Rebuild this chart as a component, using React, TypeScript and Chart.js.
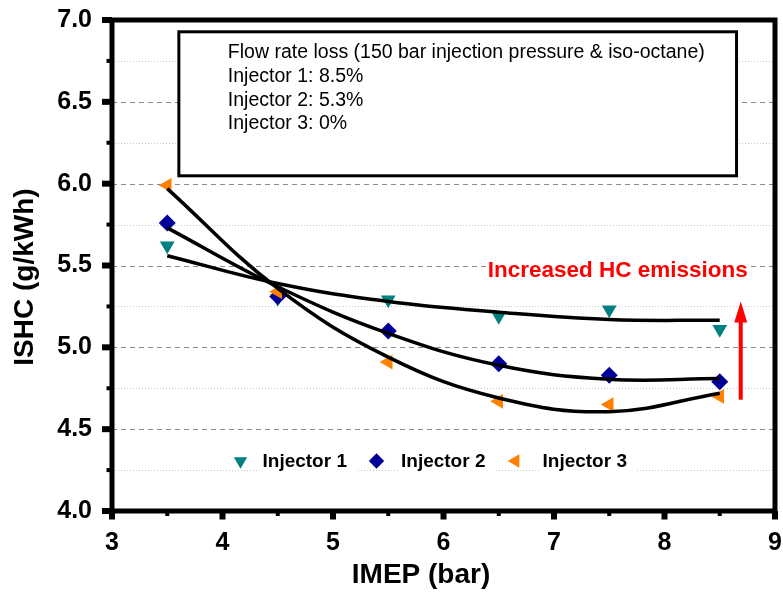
import { useEffect, useRef } from "react"
import { Chart, registerables } from "chart.js"
import { drawPoint } from "chart.js/helpers"

Chart.register(...registerables)

// IMEP operating points (bar)
const imep = [3.5, 4.5, 5.5, 6.5, 7.5, 8.5]

// measured ISHC (g/kWh)
const injector1 = [5.62, 5.30, 5.29, 5.19, 5.23, 5.11]
const injector2 = [5.76, 5.31, 5.10, 4.90, 4.83, 4.79]
const injector3 = [5.99, 5.34, 4.91, 4.67, 4.65, 4.70]

// trend curves at the same IMEP points
const trend1 = [5.56, 5.39, 5.28, 5.215, 5.17, 5.165]
const trend2 = [5.73, 5.37, 5.085, 4.89, 4.805, 4.81]
const trend3 = [5.97, 5.36, 4.94, 4.69, 4.607, 4.72]

const seriesNames = ["Injector 1", "Injector 2", "Injector 3"]
const noteLines = [
  "Flow rate loss (150 bar injection pressure & iso-octane)",
  "Injector 1: 8.5%",
  "Injector 2: 5.3%",
  "Injector 3: 0%",
]
const xTitle = "IMEP (bar)"
const yTitle = "ISHC (g/kWh)"
const arrowLabel = "Increased HC emissions"

const FONT = '"Liberation Sans", Arial, Helvetica, sans-serif'

const markers = [
  { color: "#008080", pointStyle: "triangle", rotation: 180 },
  { color: "#000099", pointStyle: "rectRot", rotation: 0 },
  { color: "#FF8000", pointStyle: "triangle", rotation: 270 },
]

const toPoints = (ys: number[]) => imep.map((x, i) => ({ x, y: ys[i] }))

const decor = {
  id: "decor",
  beforeDatasetsDraw(chart: any) {
    const { ctx, chartArea: a, scales } = chart
    const x = scales.x
    const y = scales.y
    ctx.save()

    // horizontal grid: dashed at 0.5, dotted at 0.25
    for (let v = 4.25; v < 7; v += 0.25) {
      const py = Math.round(y.getPixelForValue(v)) + 0.5
      const major = Math.abs(v * 2 - Math.round(v * 2)) < 1e-6
      ctx.beginPath()
      ctx.setLineDash(major ? [5, 4] : [1, 2])
      ctx.strokeStyle = major ? "#8a8a8a" : "#c8c8c8"
      ctx.lineWidth = 1
      ctx.moveTo(a.left, py)
      ctx.lineTo(a.right, py)
      ctx.stroke()
    }
    ctx.setLineDash([])

    // note box
    const bx0 = x.getPixelForValue(3.605)
    const bx1 = x.getPixelForValue(8.652)
    const by0 = y.getPixelForValue(6.928)
    const by1 = y.getPixelForValue(6.048)
    ctx.fillStyle = "#fff"
    ctx.fillRect(bx0, by0, bx1 - bx0, by1 - by0)
    ctx.strokeStyle = "#000"
    ctx.lineWidth = 3
    ctx.strokeRect(bx0, by0, bx1 - bx0, by1 - by0)
    ctx.fillStyle = "#000"
    ctx.font = `19.5px ${FONT}`
    ctx.textAlign = "left"
    ctx.textBaseline = "alphabetic"
    noteLines.forEach((line, i) => {
      ctx.fillText(line, bx0 + 49, by0 + 26.6 + i * 23.6)
    })

    // red label
    ctx.font = `bold 22.5px ${FONT}`
    const lx = x.getPixelForValue(6.4)
    const ly = y.getPixelForValue(5.427)
    const lw = ctx.measureText(arrowLabel).width
    ctx.fillStyle = "#fff"
    ctx.fillRect(lx - 1, ly - 19, lw + 2, 25)
    ctx.fillStyle = "#FF0000"
    ctx.fillText(arrowLabel, lx, ly)

    ctx.restore()
  },
  afterDatasetsDraw(chart: any) {
    const { ctx, chartArea: a, scales } = chart
    const x = scales.x
    const y = scales.y
    ctx.save()

    // red arrow
    const ax = x.getPixelForValue(8.69)
    const ay0 = y.getPixelForValue(4.68)
    const ay1 = y.getPixelForValue(5.28)
    ctx.fillStyle = "#FF0000"
    ctx.fillRect(ax - 2, ay1 + 18, 4, ay0 - ay1 - 18)
    ctx.beginPath()
    ctx.moveTo(ax, ay1)
    ctx.lineTo(ax - 6.5, ay1 + 21)
    ctx.lineTo(ax + 6.5, ay1 + 21)
    ctx.closePath()
    ctx.fill()

    // legend inside the plot
    const legY = a.top + 441
    const markerX = [128.5, 264.5, 403.5]
    ctx.font = `bold 19px ${FONT}`
    ctx.textAlign = "left"
    ctx.textBaseline = "alphabetic"
    seriesNames.forEach((name, i) => {
      const mx = a.left + markerX[i]
      const tx = mx + 22 + i * 2.5
      const tw = ctx.measureText(name).width
      ctx.fillStyle = "#fff"
      ctx.fillRect(tx - 3, legY - 12, tw + 12, 26)
      ctx.fillStyle = markers[i].color
      ctx.strokeStyle = markers[i].color
      drawPoint(ctx, { pointStyle: markers[i].pointStyle, rotation: markers[i].rotation, radius: 7.7, borderWidth: 0 } as any, mx, legY)
      ctx.fillStyle = "#000"
      ctx.fillText(name, tx, legY + 6)
    })

    ctx.restore()
  },
  afterDraw(chart: any) {
    const { ctx, chartArea: a, scales } = chart
    const x = scales.x
    const y = scales.y
    ctx.save()
    ctx.fillStyle = "#000"

    // tick marks
    for (let v = 4; v <= 7.001; v += 0.25) {
      const py = y.getPixelForValue(v)
      const major = Math.abs(v * 2 - Math.round(v * 2)) < 1e-6
      if (major) ctx.fillRect(a.left - 10, py - 3, 10, 6)
      else ctx.fillRect(a.left - 5.5, py - 2, 5.5, 4)
    }
    for (let v = 3; v <= 9.001; v += 0.5) {
      const px = x.getPixelForValue(v)
      const major = Math.abs(v - Math.round(v)) < 1e-6
      if (major) ctx.fillRect(px - 3, a.bottom, 6, 8.5)
      else ctx.fillRect(px - 2, a.bottom, 4, 5)
    }

    // frame
    ctx.strokeStyle = "#000"
    ctx.lineWidth = 5
    ctx.strokeRect(a.left, a.top, a.right - a.left, a.bottom - a.top)

    // axis titles
    ctx.font = `bold 28px ${FONT}`
    ctx.textAlign = "center"
    ctx.textBaseline = "middle"
    ctx.fillText(xTitle, a.left + 309, a.bottom + 64)
    ctx.translate(a.left - 87, a.top + 257)
    ctx.rotate(-Math.PI / 2)
    ctx.fillText(yTitle, 0, 0)

    ctx.restore()
  },
}

const App = () => {
  const canvasRef = useRef<HTMLCanvasElement>(null)
  const chartInstance = useRef<Chart | null>(null)

  useEffect(() => {
    if (!canvasRef.current) return
    const ctx = canvasRef.current.getContext("2d")
    if (!ctx) return

    if (chartInstance.current) chartInstance.current.destroy()

    const scatter = [injector1, injector2, injector3].map((ys, i) => ({
      label: seriesNames[i],
      data: toPoints(ys),
      showLine: false,
      pointStyle: markers[i].pointStyle,
      rotation: markers[i].rotation,
      pointRadius: 8.5,
      pointBorderWidth: 0,
      backgroundColor: markers[i].color,
      borderColor: markers[i].color,
      order: 3 - i,
    }))

    const trends = [trend1, trend2, trend3].map((ys, i) => ({
      label: `${seriesNames[i]} fit`,
      data: toPoints(ys),
      showLine: true,
      pointRadius: 0,
      borderColor: "#000",
      borderWidth: 3.5,
      tension: 0.4,
      fill: false,
      order: 0,
    }))

    chartInstance.current = new Chart(ctx, {
      type: "scatter",
      data: { datasets: [...trends, ...scatter] as any },
      options: {
        animation: false,
        responsive: true,
        maintainAspectRatio: false,
        layout: { autoPadding: false, padding: { top: 20, right: 8, left: 0, bottom: 0 } },
        scales: {
          x: {
            type: "linear",
            min: 3,
            max: 9,
            afterFit: (scale: any) => {
              scale.height = 84
              scale.paddingLeft = 0
              scale.paddingRight = 0
            },
            grid: { display: false, drawTicks: false },
            border: { display: false },
            ticks: {
              stepSize: 1,
              padding: 17,
              color: "#000",
              font: { family: FONT, size: 25, weight: "bold" },
            },
          },
          y: {
            type: "linear",
            min: 4,
            max: 7,
            afterFit: (scale: any) => {
              scale.width = 112
              scale.paddingTop = 0
              scale.paddingBottom = 0
            },
            grid: { display: false, drawTicks: false },
            border: { display: false },
            ticks: {
              stepSize: 0.5,
              padding: 20,
              color: "#000",
              font: { family: FONT, size: 25, weight: "bold" },
              callback: (v: any) => Number(v).toFixed(1),
            },
          },
        },
        plugins: {
          legend: { display: false },
          tooltip: { enabled: false },
        },
      },
      plugins: [decor],
    })

    return () => {
      if (chartInstance.current) {
        chartInstance.current.destroy()
        chartInstance.current = null
      }
    }
  }, [])

  return (
    <div style={{ position: "fixed", left: 0, top: 0, width: 783, height: 595, background: "#fff" }}>
      <canvas ref={canvasRef}></canvas>
    </div>
  )
}

export default App
